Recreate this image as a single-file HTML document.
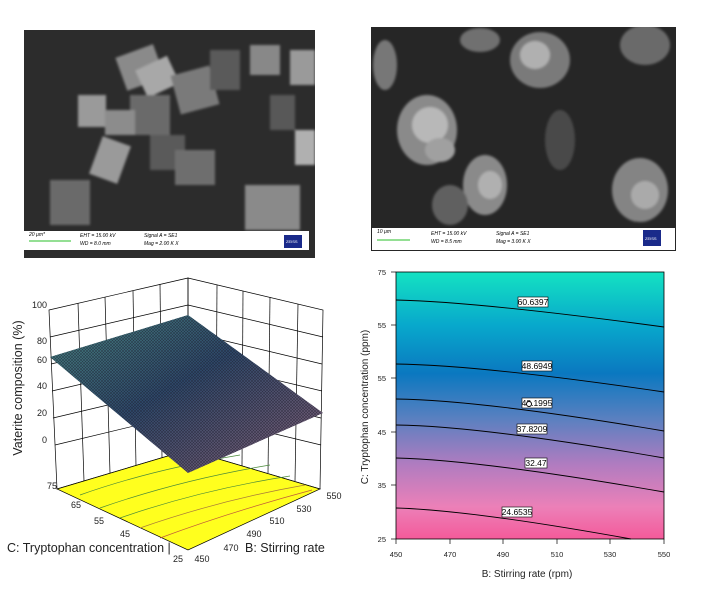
<!DOCTYPE html>
<html><head><meta charset="utf-8"><style>
html,body{margin:0;padding:0;background:#fff;width:712px;height:590px;overflow:hidden}
svg{display:block}
text{font-family:"Liberation Sans",sans-serif}
</style></head><body>
<svg width="712" height="590" viewBox="0 0 712 590" xmlns="http://www.w3.org/2000/svg">
<defs>
<filter id="bl"><feGaussianBlur stdDeviation="1.2"/></filter>
<linearGradient id="cg" x1="0" y1="0" x2="0" y2="1">
<stop offset="0" stop-color="#14e2c2"/><stop offset="0.2" stop-color="#08a8cc"/>
<stop offset="0.38" stop-color="#0a78c0"/><stop offset="0.55" stop-color="#5a80c0"/>
<stop offset="0.72" stop-color="#b07cc0"/><stop offset="0.88" stop-color="#ec80b8"/>
<stop offset="1" stop-color="#f45a9a"/></linearGradient>
<linearGradient id="sg" x1="0" y1="0" x2="1" y2="1">
<stop offset="0" stop-color="#4a8a84"/><stop offset="0.45" stop-color="#2e4a6c"/>
<stop offset="1" stop-color="#8a6278"/></linearGradient>
<pattern id="mesh" width="3" height="3" patternUnits="userSpaceOnUse">
<path d="M0 0L3 3M3 0L0 3" stroke="#1a1a28" stroke-width="0.6" opacity="0.6"/></pattern>
<clipPath id="c1"><rect x="24" y="30" width="291" height="201"/></clipPath>
<clipPath id="c2"><rect x="371" y="27" width="305" height="201"/></clipPath>
</defs>

<!-- SEM left -->
<rect x="24" y="30" width="291" height="228" fill="#2c2c2c"/>
<g clip-path="url(#c1)" filter="url(#bl)">
<rect x="120" y="50" width="40" height="35" fill="#8a8a8a" transform="rotate(-20 140 67)"/>
<rect x="140" y="62" width="35" height="30" fill="#a8a8a8" transform="rotate(-25 157 77)"/>
<rect x="175" y="70" width="40" height="40" fill="#7a7a7a" transform="rotate(-15 195 90)"/>
<rect x="78" y="95" width="28" height="32" fill="#9a9a9a"/>
<rect x="130" y="95" width="40" height="40" fill="#6a6a6a"/>
<rect x="105" y="110" width="30" height="25" fill="#8c8c8c"/>
<rect x="95" y="140" width="30" height="40" fill="#9a9a9a" transform="rotate(20 110 160)"/>
<rect x="150" y="135" width="35" height="35" fill="#5a5a5a"/>
<rect x="175" y="150" width="40" height="35" fill="#6e6e6e"/>
<rect x="250" y="45" width="30" height="30" fill="#888"/>
<rect x="290" y="50" width="25" height="35" fill="#9a9a9a"/>
<rect x="295" y="130" width="20" height="35" fill="#b0b0b0"/>
<rect x="245" y="185" width="55" height="45" fill="#8a8a8a"/>
<rect x="50" y="180" width="40" height="45" fill="#6a6a6a"/>
<rect x="210" y="50" width="30" height="40" fill="#5a5a5a"/>
<rect x="270" y="95" width="25" height="35" fill="#595959"/>
</g>
<rect x="24" y="231" width="285" height="19" fill="#fff"/>
<line x1="29" y1="241" x2="71" y2="241" stroke="#5c5" stroke-width="1.3"/>
<text x="29" y="236" font-size="5" font-style="italic">20 µm*</text>
<text x="80" y="237" font-size="5" font-style="italic">EHT = 15.00 kV</text>
<text x="80" y="245" font-size="5" font-style="italic">WD =  8.0 mm</text>
<text x="144" y="237" font-size="5" font-style="italic">Signal A = SE1</text>
<text x="144" y="245" font-size="5" font-style="italic">Mag =   2.00 K X</text>
<rect x="284" y="235" width="18" height="13" fill="#1a2a8a"/>
<text x="286" y="243" font-size="4" fill="#fff">ZEISS</text>

<!-- SEM right -->
<rect x="371" y="27" width="305" height="224" fill="#262626"/>
<g clip-path="url(#c2)" filter="url(#bl)">
<ellipse cx="427" cy="130" rx="30" ry="35" fill="#8a8a8a"/>
<ellipse cx="430" cy="125" rx="18" ry="18" fill="#b8b8b8"/>
<ellipse cx="440" cy="150" rx="15" ry="12" fill="#a0a0a0"/>
<ellipse cx="485" cy="185" rx="22" ry="30" fill="#8a8a8a"/>
<ellipse cx="490" cy="185" rx="12" ry="14" fill="#b0b0b0"/>
<ellipse cx="540" cy="60" rx="30" ry="28" fill="#7a7a7a"/>
<ellipse cx="535" cy="55" rx="15" ry="14" fill="#b0b0b0"/>
<ellipse cx="640" cy="190" rx="28" ry="32" fill="#848484"/>
<ellipse cx="645" cy="195" rx="14" ry="14" fill="#aaa"/>
<ellipse cx="645" cy="45" rx="25" ry="20" fill="#6a6a6a"/>
<ellipse cx="450" cy="205" rx="18" ry="20" fill="#606060"/>
<ellipse cx="560" cy="140" rx="15" ry="30" fill="#4a4a4a"/>
<ellipse cx="385" cy="65" rx="12" ry="25" fill="#777"/>
<ellipse cx="480" cy="40" rx="20" ry="12" fill="#707070"/>
</g>
<rect x="372" y="228" width="303" height="22" fill="#fff"/>
<line x1="377" y1="240" x2="410" y2="240" stroke="#5c5" stroke-width="1.3"/>
<text x="377" y="233" font-size="5" font-style="italic">10 µm</text>
<text x="431" y="235" font-size="5" font-style="italic">EHT = 15.00 kV</text>
<text x="431" y="243" font-size="5" font-style="italic">WD =  8.5 mm</text>
<text x="496" y="235" font-size="5" font-style="italic">Signal A = SE1</text>
<text x="496" y="243" font-size="5" font-style="italic">Mag =   3.00 K X</text>
<rect x="643" y="230" width="18" height="16" fill="#1a2a8a"/>
<text x="645" y="240" font-size="4" fill="#fff">ZEISS</text>

<!-- 3D plot -->
<g stroke="#000" stroke-width="0.7" fill="none">
<polygon points="49,310 188,278 188,450 57,489"/>
<polygon points="188,278 323,310 320,489 188,450"/>
<line x1="50" y1="337" x2="188" y2="305"/><line x1="51" y1="364" x2="188" y2="332"/>
<line x1="52" y1="391" x2="188" y2="359"/><line x1="53" y1="418" x2="188" y2="386"/>
<line x1="55" y1="445" x2="188" y2="413"/>
<line x1="323" y1="337" x2="188" y2="305"/><line x1="322" y1="364" x2="188" y2="332"/>
<line x1="322" y1="391" x2="188" y2="359"/><line x1="321" y1="418" x2="188" y2="386"/>
<line x1="321" y1="445" x2="188" y2="413"/>
<line x1="78" y1="303" x2="84" y2="481"/><line x1="105" y1="297" x2="110" y2="473"/>
<line x1="133" y1="291" x2="136" y2="466"/><line x1="160" y1="284" x2="162" y2="458"/>
<line x1="217" y1="285" x2="216" y2="458"/><line x1="243" y1="291" x2="242" y2="466"/>
<line x1="270" y1="297" x2="268" y2="473"/><line x1="298" y1="304" x2="295" y2="481"/>
</g>
<polygon points="57,489 188,450 320,489 188,550" fill="#ffff1e" stroke="#000" stroke-width="0.7"/>
<g stroke="#4a8a3a" stroke-width="0.7" fill="none">
<path d="M80,495 Q150,470 240,455"/><path d="M100,508 Q180,480 270,465"/>
<path d="M120,518 Q200,490 290,476"/>
<path d="M140,528 Q220,500 305,485" stroke="#a87a3a"/>
<path d="M160,538 Q230,512 312,490" stroke="#c05a3a"/>
</g>
<polygon points="50,357 188,315 323,413 188,473" fill="url(#sg)"/>
<polygon points="50,357 188,315 323,413 188,473" fill="url(#mesh)"/>
<g font-size="9" fill="#222">
<text x="47" y="308" text-anchor="end">100</text><text x="47" y="344" text-anchor="end">80</text>
<text x="47" y="363" text-anchor="end">60</text><text x="47" y="389" text-anchor="end">40</text>
<text x="47" y="416" text-anchor="end">20</text><text x="47" y="443" text-anchor="end">0</text>
<text x="52" y="489" text-anchor="middle">75</text><text x="76" y="508" text-anchor="middle">65</text>
<text x="99" y="524" text-anchor="middle">55</text><text x="125" y="537" text-anchor="middle">45</text>
<text x="178" y="562" text-anchor="middle">25</text>
<text x="202" y="562" text-anchor="middle">450</text><text x="231" y="551" text-anchor="middle">470</text>
<text x="254" y="537" text-anchor="middle">490</text><text x="277" y="524" text-anchor="middle">510</text>
<text x="304" y="512" text-anchor="middle">530</text><text x="334" y="499" text-anchor="middle">550</text>
</g>
<text x="7" y="552" font-size="12.5" fill="#222">C: Tryptophan concentration |</text>
<text x="245" y="552" font-size="12.5" fill="#222">B: Stirring rate</text>
<text transform="translate(22,388) rotate(-90)" font-size="12.5" text-anchor="middle" fill="#222">Vaterite composition (%)</text>

<!-- contour plot -->
<rect x="396" y="272" width="268" height="267" fill="url(#cg)"/>
<g stroke="#000" stroke-width="0.9" fill="none">
<path d="M396,300 Q480,302 664,327"/>
<path d="M396,364 Q480,365 664,392"/>
<path d="M396,399 Q480,400 664,431"/>
<path d="M396,425 Q480,426 664,458"/>
<path d="M396,458 Q480,460 664,492"/>
<path d="M396,508 Q470,510 631,539"/>
</g>
<rect x="396" y="272" width="268" height="267" fill="none" stroke="#000" stroke-width="0.8"/>
<g font-size="8.5" text-anchor="middle">
<rect x="518" y="297" width="30" height="10" fill="#fff" stroke="#000" stroke-width="0.6"/><text x="533" y="305">60.6397</text>
<rect x="522" y="361" width="30" height="10" fill="#fff" stroke="#000" stroke-width="0.6"/><text x="537" y="369">48.6949</text>
<rect x="522" y="398" width="30" height="10" fill="#fff" stroke="#000" stroke-width="0.6"/><text x="537" y="406">43.1995</text>
<rect x="517" y="424" width="30" height="10" fill="#fff" stroke="#000" stroke-width="0.6"/><text x="532" y="432">37.8209</text>
<rect x="525" y="458" width="22" height="10" fill="#fff" stroke="#000" stroke-width="0.6"/><text x="536" y="466">32.47</text>
<rect x="502" y="507" width="30" height="10" fill="#fff" stroke="#000" stroke-width="0.6"/><text x="517" y="515">24.6535</text>
</g>
<circle cx="529" cy="404" r="2.5" fill="#fff" stroke="#000"/>
<g font-size="7.5" fill="#222">
<g stroke="#000" stroke-width="0.7"><line x1="391" y1="272" x2="396" y2="272"/><line x1="391" y1="325" x2="396" y2="325"/><line x1="391" y1="378" x2="396" y2="378"/><line x1="391" y1="432" x2="396" y2="432"/><line x1="391" y1="485" x2="396" y2="485"/><line x1="391" y1="539" x2="396" y2="539"/>
<line x1="396" y1="539" x2="396" y2="544"/><line x1="450" y1="539" x2="450" y2="544"/><line x1="503" y1="539" x2="503" y2="544"/><line x1="557" y1="539" x2="557" y2="544"/><line x1="610" y1="539" x2="610" y2="544"/><line x1="664" y1="539" x2="664" y2="544"/></g>
<text x="386" y="275" text-anchor="end">75</text><text x="386" y="328" text-anchor="end">55</text>
<text x="386" y="381" text-anchor="end">55</text><text x="386" y="435" text-anchor="end">45</text>
<text x="386" y="488" text-anchor="end">35</text><text x="386" y="542" text-anchor="end">25</text>
<text x="396" y="557" text-anchor="middle">450</text><text x="450" y="557" text-anchor="middle">470</text>
<text x="503" y="557" text-anchor="middle">490</text><text x="557" y="557" text-anchor="middle">510</text>
<text x="610" y="557" text-anchor="middle">530</text><text x="664" y="557" text-anchor="middle">550</text>
</g>
<text x="527" y="577" font-size="10" text-anchor="middle" fill="#222">B: Stirring rate  (rpm)</text>
<text transform="translate(368,407) rotate(-90)" font-size="10" text-anchor="middle" fill="#222">C: Tryptophan concentration  (ppm)</text>
</svg>
</body></html>
